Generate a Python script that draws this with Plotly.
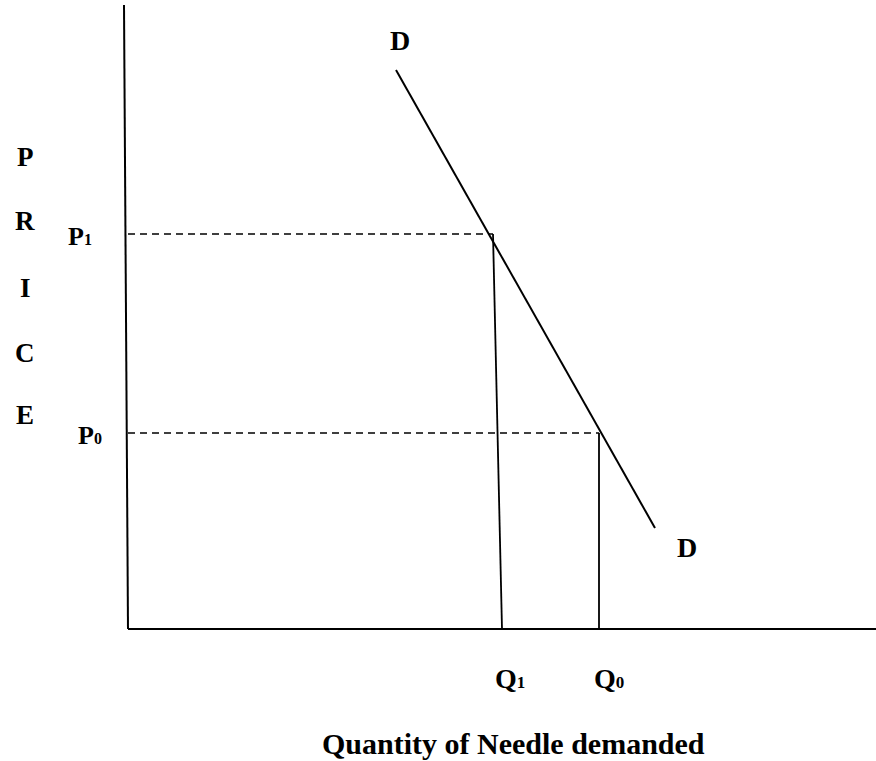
import plotly.graph_objects as go

# Data (chart units: origin at the axes corner)
demand_q = [268, 527]          # demand curve D-D endpoints (quantity)
demand_p = [559, 101]          # demand curve D-D endpoints (price)
price_levels = {"P1": 395, "P0": 196}
qty_levels = {"Q1": 374, "Q0": 471}
q1_top = 365                   # upper end of the Q1 drop line (as drawn)
q0_top = 471
y_axis_q = [-4, 0]
y_axis_p = [624, 0]
x_axis_q = [0, 748]
x_axis_p = [0, 0]

FONT = "Liberation Serif, Times New Roman, serif"
BLACK = "#000000"

fig = go.Figure()

# axes
fig.add_trace(go.Scatter(x=y_axis_q, y=y_axis_p, mode="lines",
                         line=dict(color=BLACK, width=2), hoverinfo="skip"))
fig.add_trace(go.Scatter(x=x_axis_q, y=x_axis_p, mode="lines",
                         line=dict(color=BLACK, width=2), hoverinfo="skip"))

# demand curve
fig.add_trace(go.Scatter(x=demand_q, y=demand_p, mode="lines",
                         line=dict(color=BLACK, width=2), hoverinfo="skip"))

# dashed price lines
fig.add_trace(go.Scatter(x=[0, q1_top], y=[price_levels["P1"], price_levels["P1"]],
                         mode="lines", line=dict(color=BLACK, width=1.6, dash="7px,5px"),
                         hoverinfo="skip"))
fig.add_trace(go.Scatter(x=[0, q0_top], y=[price_levels["P0"], price_levels["P0"]],
                         mode="lines", line=dict(color=BLACK, width=1.6, dash="7px,5px"),
                         hoverinfo="skip"))

# quantity drop lines
fig.add_trace(go.Scatter(x=[q1_top, qty_levels["Q1"]], y=[price_levels["P1"], 0],
                         mode="lines", line=dict(color=BLACK, width=1.8), hoverinfo="skip"))
fig.add_trace(go.Scatter(x=[q0_top, qty_levels["Q0"]], y=[price_levels["P0"], 0],
                         mode="lines", line=dict(color=BLACK, width=1.8), hoverinfo="skip"))

annotations = []

def ann(x, y, text, size):
    annotations.append(dict(x=x, y=y, xref="x", yref="y", text=text, showarrow=False,
                            xanchor="center", yanchor="middle",
                            font=dict(family=FONT, size=size, color=BLACK)))

# D labels
ann(demand_q[0] + 4, demand_p[0] + 30, "<b>D</b>", 28)
ann(demand_q[1] + 32, demand_p[1] - 19, "<b>D</b>", 28)

# price labels
ann(-48, price_levels["P1"] - 2, "<b>P<span style='font-size:16px'>1</span></b>", 26)
ann(-38, price_levels["P0"] - 2, "<b>P<span style='font-size:16px'>0</span></b>", 26)

# quantity labels
ann(qty_levels["Q1"] + 8, -49, "<b>Q<span style='font-size:17px'>1</span></b>", 28)
ann(qty_levels["Q0"] + 10, -49, "<b>Q<span style='font-size:17px'>0</span></b>", 28)

# vertical PRICE label
price_letters = ["P", "R", "I", "C", "E"]
letter_y = [472, 408, 341, 276, 214]
for ch, yy in zip(price_letters, letter_y):
    ann(-103, yy, f"<b>{ch}</b>", 27)

# x axis title
ann(385, -114, "<b>Quantity of Needle demanded</b>", 30)

fig.update_layout(
    width=876, height=761,
    margin=dict(l=0, r=0, t=0, b=0),
    paper_bgcolor="white", plot_bgcolor="white",
    showlegend=False,
    annotations=annotations,
    xaxis=dict(range=[-128, 748], visible=False, fixedrange=True),
    yaxis=dict(range=[-132, 629], visible=False, fixedrange=True),
)

fig.write_html(
    "out.html",
    config={"displayModeBar": False},
    post_script="document.body.style.margin='0';document.body.style.overflow='hidden';",
)
